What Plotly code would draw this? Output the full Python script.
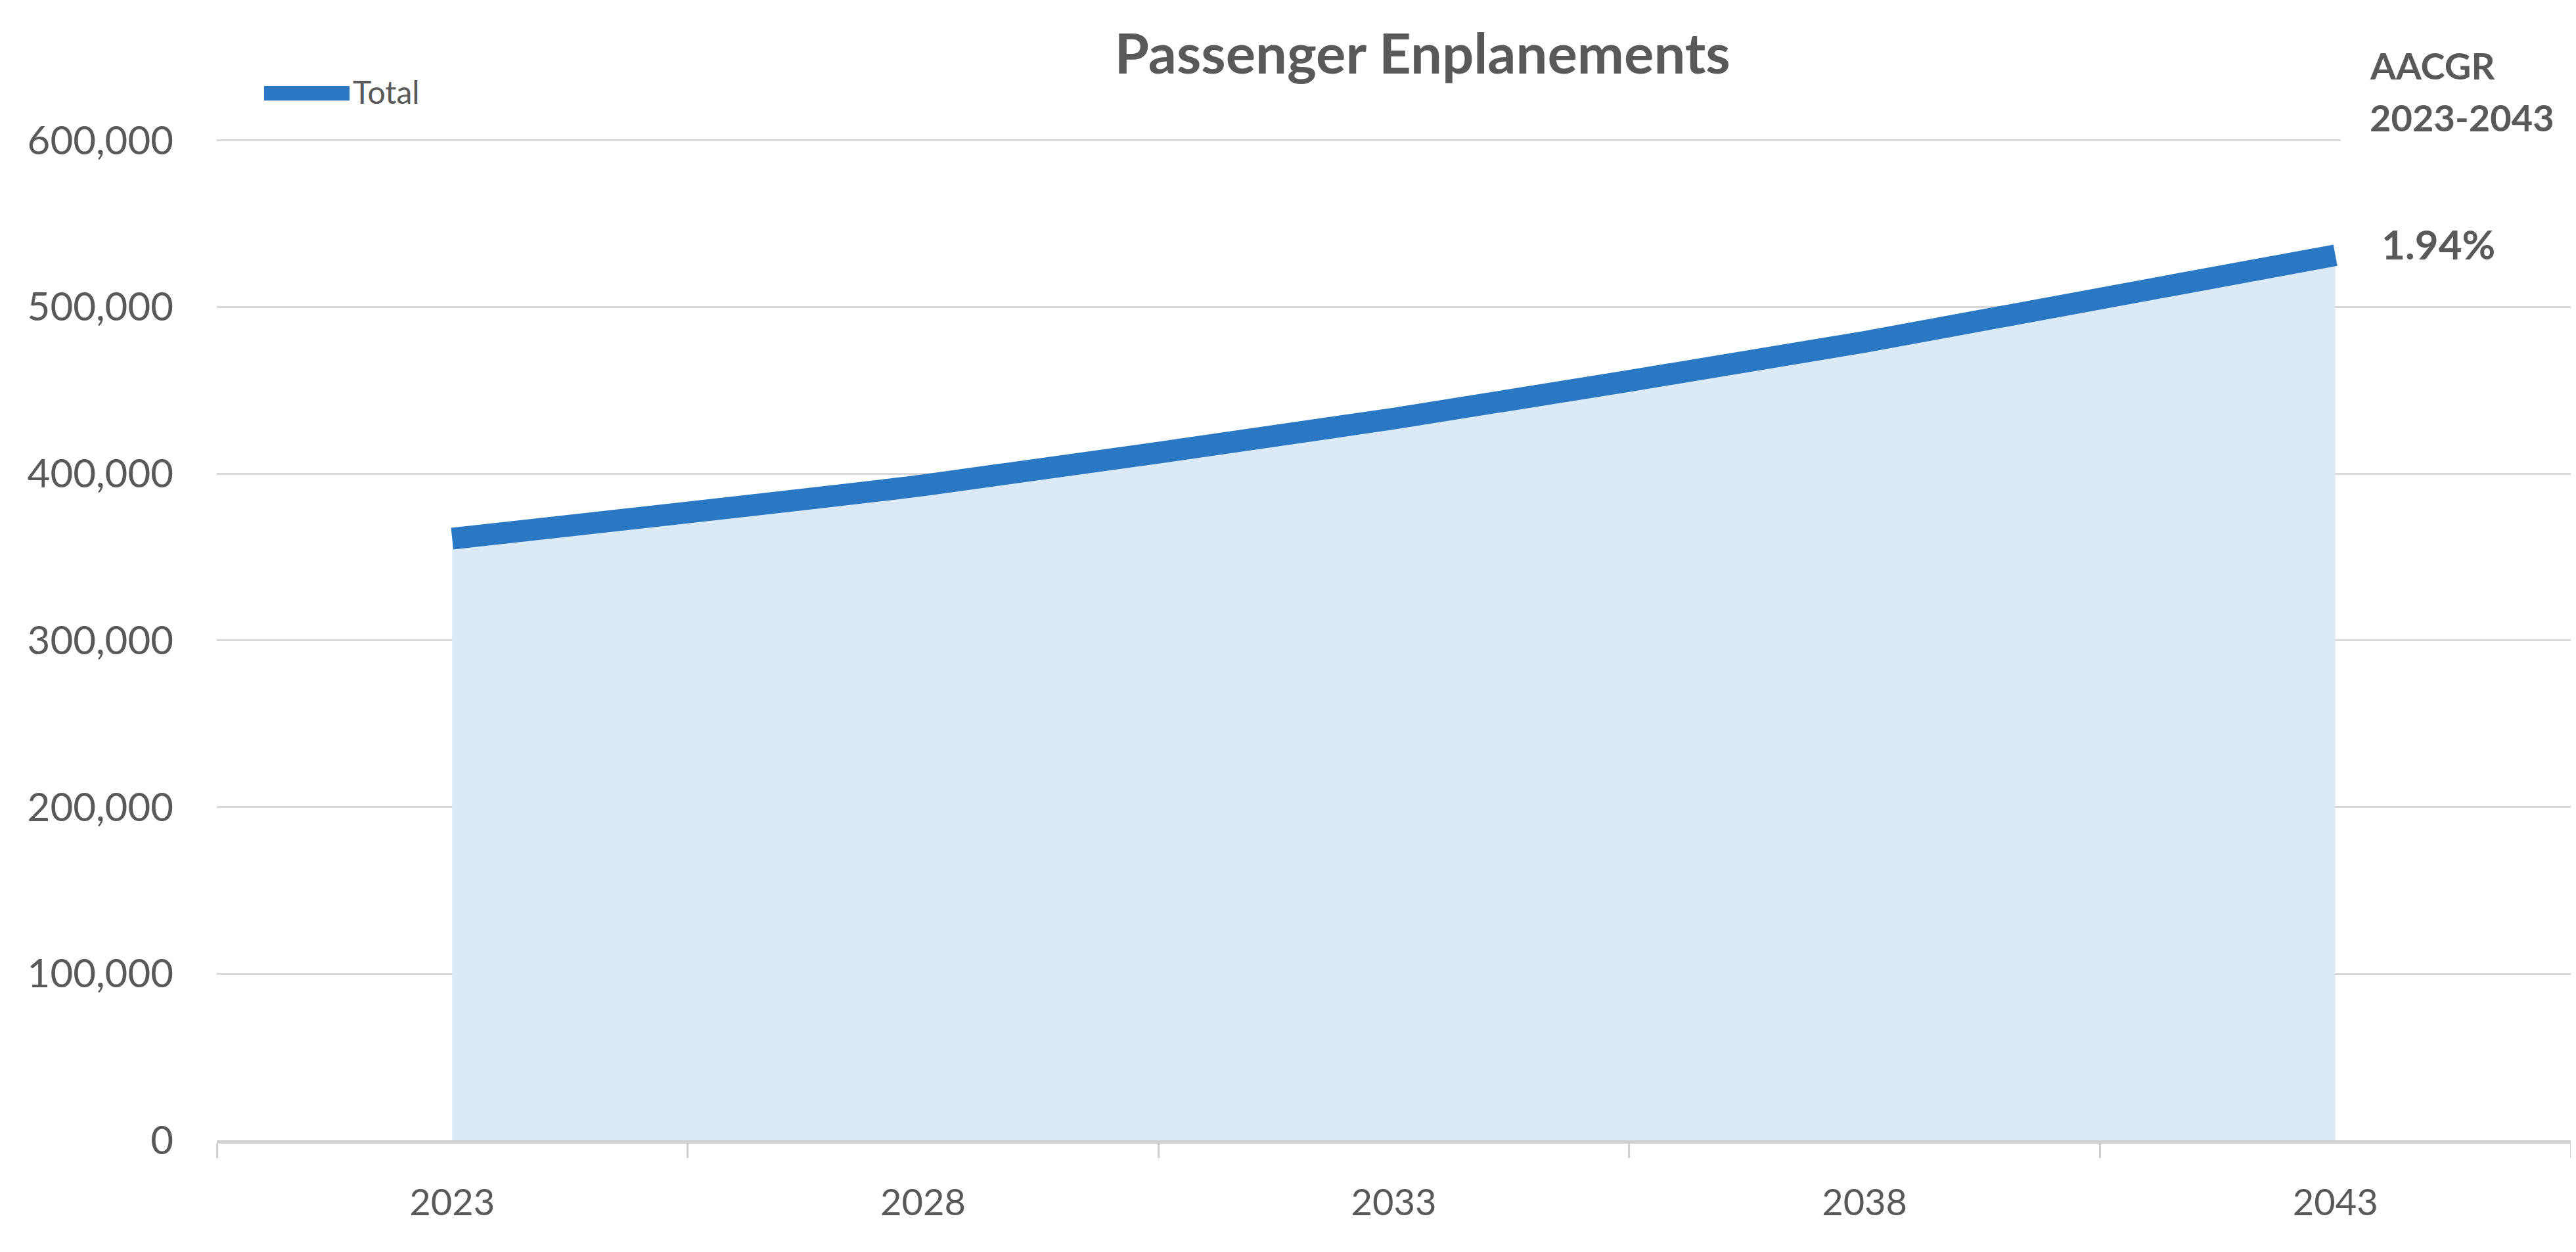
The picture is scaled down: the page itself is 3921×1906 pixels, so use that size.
import plotly.graph_objects as go

years = ["2023", "2028", "2033", "2038", "2043"]
total = [361000, 393000, 433000, 479000, 531000]
aacgr_label = "1.94%"
y_ticks = [0, 100000, 200000, 300000, 400000, 500000, 600000]

TXT = "#595959"
FONT = "Lato"
LINE = "#2A78C3"

fig = go.Figure()
fig.add_trace(go.Scatter(
    x=years, y=total, name="Total", mode="lines",
    line=dict(color=LINE, width=33, shape="spline", smoothing=0.5),
    fill="tozeroy", fillcolor="#DCE9F6", showlegend=False,
))

fig.update_layout(
    width=3905, height=1890,
    margin=dict(l=322, r=0, t=203, b=162),
    paper_bgcolor="white", plot_bgcolor="white",
    font=dict(family=FONT, color=TXT, size=56),
    title=dict(text="<b>Passenger Enplanements</b>", x=0.5524, xanchor="center",
               y=0.9608, yanchor="middle", font=dict(size=85, color=TXT, family=FONT)),
    showlegend=False,
    xaxis=dict(type="category", range=[-0.5, 4.5], showgrid=False,
               showline=True, linecolor="#CFCFCF", linewidth=5,
               ticks="outside", tickson="boundaries", ticklen=22, tickwidth=3,
               tickcolor="#CFCFCF", ticklabelstandoff=42,
               tickfont=dict(size=56, color=TXT)),
    yaxis=dict(range=[0, 601000], tickvals=y_ticks, tickformat=",",
               showgrid=True, gridcolor="#D9D9D9", gridwidth=3,
               zeroline=False, showline=False, ticks="",
               ticklabelstandoff=65, tickfont=dict(size=60, color=TXT)),
)

# white box behind the AACGR header (hides the top gridline there, as in the original)
fig.add_shape(type="rect", xref="paper", yref="paper", x0=0.9023, x1=1.01,
              y0=0.9908, y1=1.12, fillcolor="white", line=dict(width=0), layer="above")

# custom legend entry
fig.add_shape(type="line", xref="paper", yref="paper", x0=0.0201, x1=0.0564,
              y0=1.0452, y1=1.0452, line=dict(color=LINE, width=22))
fig.add_annotation(xref="paper", yref="paper", x=0.0572, y=1.0466, xanchor="left",
                   yanchor="middle", text="Total", showarrow=False,
                   font=dict(size=48, color=TXT, family=FONT))

fig.add_annotation(xref="paper", yref="paper", x=0.9140, y=1.0734, xanchor="left",
                   yanchor="middle", text="<b>AACGR</b>", showarrow=False,
                   font=dict(size=56, color=TXT, family=FONT))
fig.add_annotation(xref="paper", yref="paper", x=0.9140, y=1.0216, xanchor="left",
                   yanchor="middle", text="<b>2023-2043</b>", showarrow=False,
                   font=dict(size=56, color=TXT, family=FONT))

# growth-rate label next to the last point (category index of the last year)
fig.add_annotation(
    x=len(years) - 1, y=total[-1], xref="x", yref="y", xanchor="left", yanchor="middle",
    xshift=68, yshift=18, text="<b>" + aacgr_label + "</b>", showarrow=False,
    font=dict(size=62, color=TXT, family=FONT),
)

fig.write_html("out.html")
